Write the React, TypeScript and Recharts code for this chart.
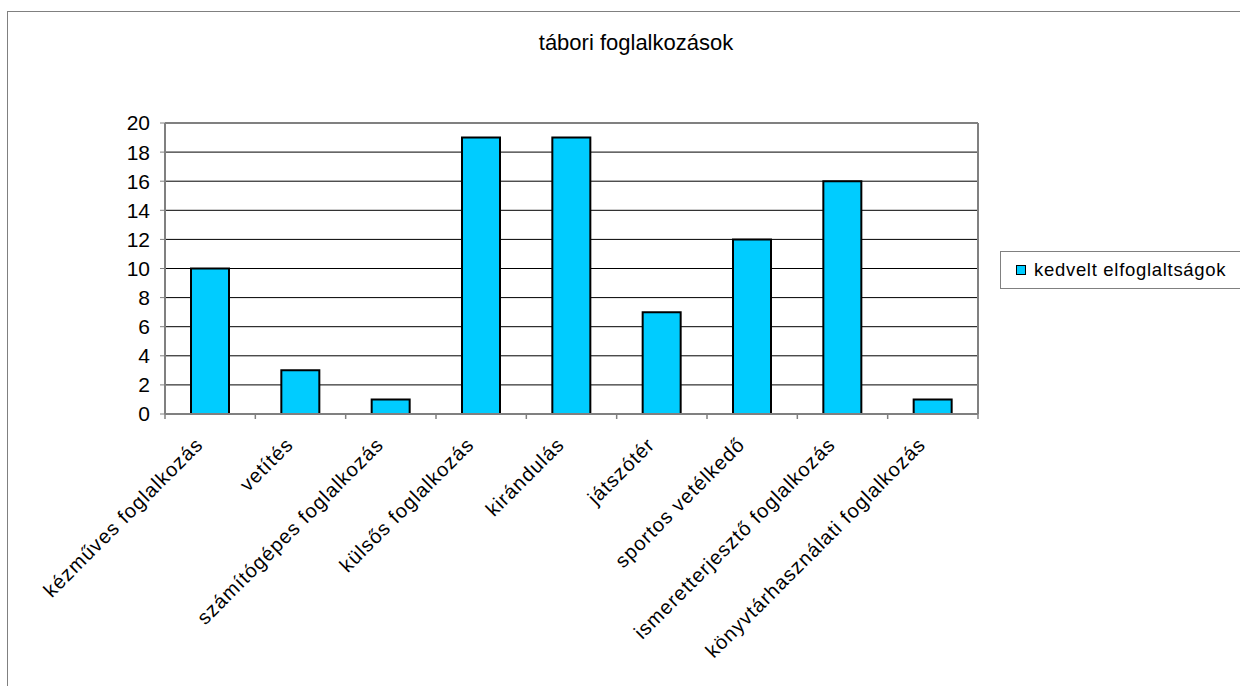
import React from 'react';
import {
  BarChart, Bar, XAxis, YAxis, CartesianGrid, ReferenceLine,
} from 'recharts';

// ─── Data ────────────────────────────────────────────────────────────────────

const CATEGORIES = [
  'kézműves foglalkozás',
  'vetítés',
  'számítógépes foglalkozás',
  'külsős foglalkozás',
  'kirándulás',
  'játszótér',
  'sportos vetélkedő',
  'ismeretterjesztő foglalkozás',
  'könyvtárhasználati foglalkozás',
];
const VALUES = [10, 3, 1, 19, 19, 7, 12, 16, 1];
const Y_TICKS = [0, 2, 4, 6, 8, 10, 12, 14, 16, 18, 20];
const SERIES_NAME = 'kedvelt elfoglaltságok';
const TITLE = 'tábori foglalkozások';

const data = CATEGORIES.map((name, i) => ({ name, value: VALUES[i] }));

// ─── Style ───────────────────────────────────────────────────────────────────

const FONT = 'Arial, "Liberation Sans", sans-serif';
const C = {
  bar: '#00CCFF',
  barStroke: '#000000',
  grid: '#000000',
  frame: '#808080',
  text: '#000000',
};

// category label + tick marks between categories (Excel style)
const CategoryTick = ({ x, y, payload, index }: any) => {
  const half = payload.offset ?? 0;
  const ax = x - 6;
  const ay = y + 32;
  return (
    <g>
      <line x1={x - half} x2={x - half} y1={y} y2={y + 5} stroke={C.frame} strokeWidth={1.5} />
      {index === CATEGORIES.length - 1 && (
        <line x1={x + half} x2={x + half} y1={y} y2={y + 5} stroke={C.frame} strokeWidth={1.5} />
      )}
      <text
        x={ax}
        y={ay}
        transform={`rotate(-45, ${ax}, ${ay})`}
        textAnchor="end"
        fontSize={20}
        letterSpacing={1}
        fill={C.text}
        fontFamily={FONT}
      >
        {payload.value}
      </text>
    </g>
  );
};

export default function App() {
  return (
    <div style={{ position: 'absolute', left: 0, top: 0, width: 1240, height: 686, overflow: 'hidden', background: '#fff' }}>
      {/* chart frame */}
      <div style={{
        position: 'absolute', left: 7, top: 11, width: 1260, height: 700,
        border: `1px solid ${C.frame}`,
      }} />
      <div style={{
        position: 'absolute', left: 0, top: 30, width: 1272, textAlign: 'center',
        fontFamily: FONT, fontSize: 22, color: C.text,
      }}>
        {TITLE}
      </div>
      <div style={{ position: 'absolute', left: 0, top: 0 }}>
        <BarChart
          width={1240}
          height={686}
          data={data}
          margin={{ top: 123, right: 261, left: 105, bottom: 0 }}
          barSize={38}
        >
          <CartesianGrid vertical={false} stroke={C.grid} />
          <XAxis
            dataKey="name"
            type="category"
            height={272}
            axisLine={{ stroke: C.frame, strokeWidth: 2 }}
            tickLine={false}
            tickSize={0}
            tickMargin={0}
            interval={0}
            tick={<CategoryTick />}
          />
          <YAxis
            domain={[0, 20]}
            ticks={Y_TICKS}
            width={60}
            axisLine={{ stroke: C.frame, strokeWidth: 2 }}
            tickLine={{ stroke: C.frame }}
            tickSize={5}
            tickMargin={10}
            tick={{ fontSize: 21, fill: C.text, fontFamily: FONT }}
            interval={0}
          />
          <YAxis
            yAxisId="right"
            orientation="right"
            width={1}
            domain={[0, 20]}
            tick={false}
            tickLine={false}
            axisLine={{ stroke: C.frame, strokeWidth: 2 }}
          />
          <ReferenceLine y={20} stroke={C.frame} strokeWidth={2} />
          <Bar
            dataKey="value"
            name={SERIES_NAME}
            fill={C.bar}
            stroke={C.barStroke}
            strokeWidth={2}
            isAnimationActive={false}
          />
        </BarChart>
      </div>
      {/* legend */}
      <div style={{
        position: 'absolute', left: 1000, top: 251, width: 260, height: 38,
        border: `1px solid ${C.frame}`, background: '#fff', boxSizing: 'border-box',
        display: 'flex', alignItems: 'center', fontFamily: FONT, fontSize: 18.5,
        letterSpacing: 0.7, whiteSpace: 'nowrap', color: C.text,
      }}>
        <span style={{
          display: 'inline-block', width: 8, height: 8, background: C.bar,
          border: `1px solid ${C.barStroke}`, marginLeft: 15, marginRight: 8,
        }} />
        {SERIES_NAME}
      </div>
    </div>
  );
}
